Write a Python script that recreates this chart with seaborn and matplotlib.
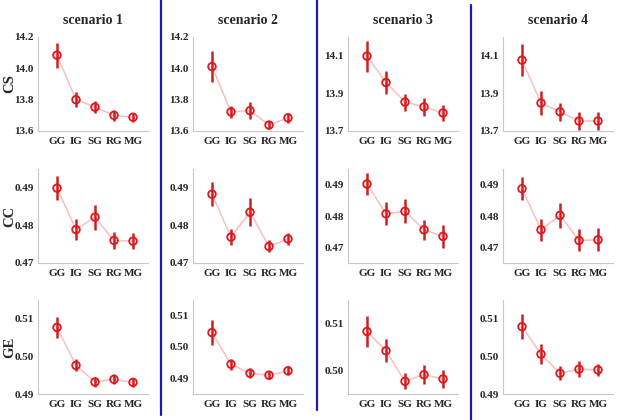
import numpy as np
import seaborn as sns
import matplotlib.pyplot as plt
from matplotlib.lines import Line2D

groups = ["GG", "IG", "SG", "RG", "MG"]
scenarios = ["scenario 1", "scenario 2", "scenario 3", "scenario 4"]
metrics = ["CS", "CC", "GE"]

# mean values, one list per scenario
cs_mean = [[14.084, 13.800, 13.752, 13.700, 13.688],
           [14.011, 13.722, 13.730, 13.638, 13.684],
           [14.098, 13.958, 13.854, 13.828, 13.796],
           [14.077, 13.849, 13.802, 13.753, 13.753]]
cs_err = [[0.080, 0.047, 0.040, 0.035, 0.030],
          [0.097, 0.039, 0.055, 0.026, 0.032],
          [0.083, 0.063, 0.045, 0.046, 0.044],
          [0.086, 0.063, 0.048, 0.050, 0.046]]

cc_mean = [[0.4899, 0.4789, 0.4822, 0.4760, 0.4758],
           [0.4883, 0.4769, 0.4835, 0.4744, 0.4764],
           [0.4902, 0.4807, 0.4815, 0.4756, 0.4735],
           [0.4887, 0.4756, 0.4802, 0.4722, 0.4724]]
cc_err = [[0.0032, 0.0028, 0.0033, 0.0022, 0.0022],
          [0.0032, 0.0022, 0.0037, 0.0016, 0.0016],
          [0.0036, 0.0037, 0.0038, 0.0032, 0.0036],
          [0.0036, 0.0036, 0.0039, 0.0035, 0.0037]]

ge_mean = [[0.5077, 0.4976, 0.4932, 0.4939, 0.4931],
           [0.5046, 0.4945, 0.4916, 0.4910, 0.4924],
           [0.5083, 0.5042, 0.4977, 0.4991, 0.4982],
           [0.5079, 0.5006, 0.4955, 0.4966, 0.4964]]
ge_err = [[0.0029, 0.0016, 0.0013, 0.0013, 0.0012],
          [0.0039, 0.0017, 0.0016, 0.0012, 0.0014],
          [0.0033, 0.0024, 0.0017, 0.0020, 0.0019],
          [0.0034, 0.0027, 0.0019, 0.0021, 0.0016]]

# y limits and ticks per panel
ylims = [[(13.6, 14.2), (13.6, 14.2), (13.7, 14.2), (13.7, 14.2)],
         [(0.47, 0.495), (0.47, 0.495), (0.465, 0.495), (0.465, 0.495)],
         [(0.49, 0.515), (0.485, 0.515), (0.495, 0.515), (0.49, 0.515)]]
yticks = [[[13.6, 13.8, 14.0, 14.2], [13.6, 13.8, 14.0, 14.2],
           [13.7, 13.9, 14.1], [13.7, 13.9, 14.1]],
          [[0.47, 0.48, 0.49]] * 4,
          [[0.49, 0.50, 0.51], [0.49, 0.50, 0.51], [0.50, 0.51], [0.49, 0.50, 0.51]]]
fmts = ["%.1f", "%.2f", "%.2f"]

means = [cs_mean, cc_mean, ge_mean]
errs = [cs_err, cc_err, ge_err]

sns.set_style("white")
plt.rcParams["font.family"] = ["Liberation Serif", "DejaVu Serif"]
plt.rcParams["font.weight"] = "bold"

W, H = 624, 420
fig = plt.figure(figsize=(W / 100, H / 100), dpi=100)

lefts = [38, 193, 348, 503]
tops = [37, 169, 300]
aw, ah = 110, 94

red = "#e8141c"
for r in range(3):
    for c in range(4):
        ax = fig.add_axes([lefts[c] / W, 1 - (tops[r] + ah) / H, aw / W, ah / H])
        x = np.arange(len(groups))
        y = means[r][c]
        e = errs[r][c]
        sns.lineplot(x=x, y=y, ax=ax, color="#f7c0c0", linewidth=1.1, zorder=1)
        ax.errorbar(x, y, yerr=e, fmt="none", ecolor="#cc2020", elinewidth=1.8,
                    capsize=0, zorder=2)
        sns.scatterplot(x=x, y=y, ax=ax, s=30, marker="o", facecolor="none",
                        edgecolor=red, linewidth=1.3, zorder=3)
        ax.set_xlim(-1, 4.79)
        ax.set_ylim(*ylims[r][c])
        ax.set_yticks(yticks[r][c])
        ax.set_yticklabels([fmts[r] % v for v in yticks[r][c]], fontsize=8,
                           fontweight="bold")
        ax.set_xticks(x)
        ax.set_xticklabels(groups, fontsize=8, fontweight="bold")
        ax.tick_params(axis="x", length=0, pad=4)
        ax.tick_params(axis="y", length=0, pad=3)
        for s in ["top", "right"]:
            ax.spines[s].set_visible(False)
        for s in ["left", "bottom"]:
            ax.spines[s].set_color("#c8c8c8")
            ax.spines[s].set_linewidth(0.8)
        if r == 0:
            ax.set_title(scenarios[c], fontsize=10, fontweight="bold", pad=9)
        if c == 0:
            ax.set_ylabel(metrics[r], fontsize=10.5, fontweight="bold")
            ax.yaxis.set_label_coords(-0.195, 0.5)

# blue separators between scenarios
for xs, y0, y1 in [(161, 0, 415), (317, 0, 410), (471, 5, 420)]:
    fig.add_artist(Line2D([xs / W, xs / W], [1 - y0 / H, 1 - y1 / H],
                          color="#1c1ca8", linewidth=1.6))

fig.savefig("out.png", dpi=100)
